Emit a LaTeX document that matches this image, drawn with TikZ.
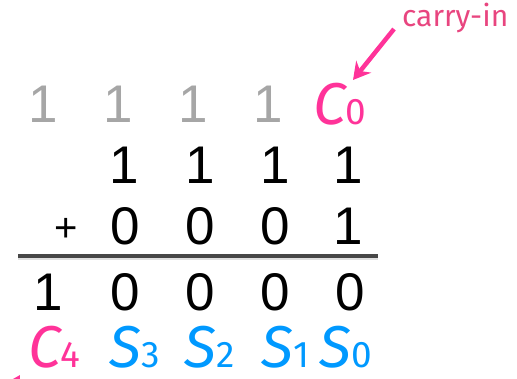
\documentclass[tikz,border=0pt]{standalone}
\usepackage{fontspec}
\setmainfont{Liberation Sans}
\newfontfamily\hum{Fira Sans}
\usetikzlibrary{arrows.meta}
\definecolor{lightgray}{HTML}{A6A6A6}
\definecolor{hotpink}{HTML}{FF3399}
\definecolor{skyblue}{HTML}{0099FF}
\definecolor{labelpink}{HTML}{E8457F}
\definecolor{rulegray}{HTML}{474747}
\newcommand{\bigsym}[2]{{\hum\itshape\fontsize{59}{59}\selectfont #1}{\hum\fontsize{37}{37}\selectfont #2}}
\begin{document}
\begin{tikzpicture}[x=1pt,y=1pt,
  digit/.style={inner sep=0pt, anchor=base, text depth=0pt, font=\fontsize{53}{53}\selectfont},
  carrydigit/.style={digit, text=lightgray},
  sym/.style={inner sep=0pt, anchor=base west, text depth=0pt},
]
\useasboundingbox (0,0) rectangle (517,-379);
% carry row
\node[carrydigit] (g3) at (43,-123) {1};
\node[carrydigit] (g2) at (118,-123) {1};
\node[carrydigit] (g1) at (193,-123) {1};
\node[carrydigit] (g0) at (268,-123) {1};
\node[sym, text=hotpink] (c0) at (313,-125) {\bigsym{C}{0}};
% first operand
\node[digit] (a3) at (124,-184) {1};
\node[digit] (a2) at (200,-184) {1};
\node[digit] (a1) at (275,-184) {1};
\node[digit] (a0) at (348,-184) {1};
% second operand
\node[digit, font=\fontsize{40}{40}\selectfont] (plus) at (66,-242) {+};
\node[digit] (b3) at (125,-245) {0};
\node[digit] (b2) at (200,-245) {0};
\node[digit] (b1) at (275,-245) {0};
\node[digit] (b0) at (348,-245) {1};
% rule
\coordinate (rl) at (18,-256);
\coordinate (rr) at (378,-256);
\draw[line width=4pt, black, opacity=0.12] ([yshift=-2.5pt]rl) -- ([yshift=-2.5pt]rr);
\draw[line width=3.5pt, rulegray] (rl) -- (rr);
% result
\node[digit] (r4) at (48,-311) {1};
\node[digit] (r3) at (125,-311) {0};
\node[digit] (r2) at (200,-311) {0};
\node[digit] (r1) at (275,-311) {0};
\node[digit] (r0) at (350,-311) {0};
% labels
\node[sym, text=hotpink] (c4) at (28,-367) {\bigsym{C}{4}};
\node[sym, text=skyblue] (s3) at (109,-367) {\bigsym{S}{3}};
\node[sym, text=skyblue] (s2) at (184,-367) {\bigsym{S}{2}};
\node[sym, text=skyblue] (s1) at (261,-367) {\bigsym{S}{1}};
\node[sym, text=skyblue] (s0) at (319,-367) {\bigsym{S}{0}};
% carry-in annotation
\node[inner sep=0pt, anchor=base west, text=labelpink, font=\hum\fontsize{30}{30}\selectfont] (cin) at (402,-27) {carry-in};
\coordinate (cinstart) at (394,-29);
\coordinate (cintip) at (353,-80);
\draw[line width=4.5pt, hotpink, -{Stealth[length=17pt,width=19pt]}] (cinstart) -- (cintip);
% carry-out arrow (only its tip shows at the bottom edge)
\coordinate (coutstart) at (-10,-425);
\coordinate (couttip) at (20,-375);
\draw[line width=4.5pt, hotpink, -{Stealth[length=17pt,width=19pt]}] (coutstart) -- (couttip);
\end{tikzpicture}
\end{document}
